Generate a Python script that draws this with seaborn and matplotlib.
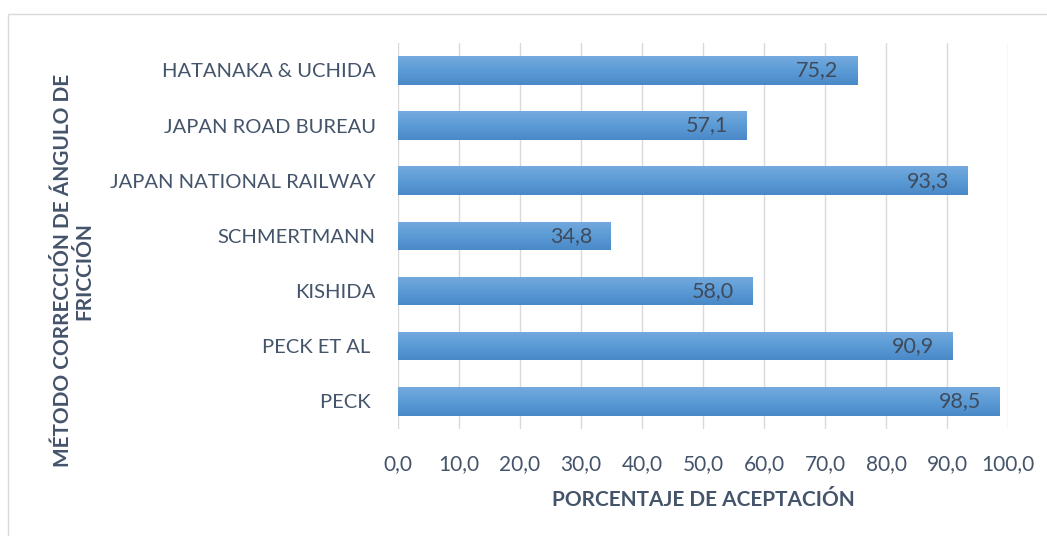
import numpy as np
import pandas as pd
import seaborn as sns
import matplotlib.pyplot as plt
from matplotlib.patches import Rectangle
from matplotlib.colors import LinearSegmentedColormap

methods = ["HATANAKA & UCHIDA", "JAPAN ROAD BUREAU", "JAPAN NATIONAL RAILWAY",
           "SCHMERTMANN", "KISHIDA", "PECK ET AL ", "PECK "]
acceptance = [75.2, 57.1, 93.3, 34.8, 58.0, 90.9, 98.5]
x_ticks = [0, 10, 20, 30, 40, 50, 60, 70, 80, 90, 100]

df = pd.DataFrame({"metodo": methods, "aceptacion": acceptance})

sns.set_theme(style="white")
plt.rcParams["font.family"] = ["Lato", "DejaVu Sans"]
text_color = "#44546A"

fig = plt.figure(figsize=(10.47, 5.36), dpi=100)
ax = fig.add_axes([0.380, 0.200, 0.583, 0.720])

sns.barplot(data=df, x="aceptacion", y="metodo", orient="h", color="#5B9BD5",
            width=0.52, saturation=1, ax=ax, zorder=2)

# vertical gradient fill on each bar
grad = np.linspace(0, 1, 64).reshape(-1, 1)
cmap = LinearSegmentedColormap.from_list("bar", ["#74AADF", "#5B9BD5", "#4A89C8"])
for patch in ax.patches:
    x0, y0 = patch.get_x(), patch.get_y()
    w, h = patch.get_width(), patch.get_height()
    im = ax.imshow(grad, cmap=cmap, aspect="auto", extent=(x0, x0 + w, y0 + h, y0),
                   zorder=3, interpolation="bicubic")
    im.set_clip_path(patch)
    patch.set_edgecolor("none")

for i, v in enumerate(acceptance):
    ax.text(v - 3.0, i, f"{v:.1f}".replace(".", ","), ha="right", va="center",
            fontsize=15.5, color="#404A5A", zorder=4)

ax.set_xlim(0, 100)
ax.set_ylim(len(methods) - 0.5, -0.5)
ax.set_xticks(x_ticks)
ax.set_xticklabels([f"{t:.1f}".replace(".", ",") for t in x_ticks])
ax.grid(axis="x", color="#D9D9D9", linewidth=1, zorder=0)
ax.set_axisbelow(True)
for s in ax.spines.values():
    s.set_visible(False)
ax.tick_params(axis="x", length=0, pad=18, labelsize=15, labelcolor=text_color)
ax.tick_params(axis="y", length=0, pad=16, labelsize=14.5, labelcolor=text_color)

ax.set_xlabel("PORCENTAJE DE ACEPTACIÓN", fontsize=15, fontweight="bold",
              color=text_color, labelpad=12)
ax.set_ylabel("MÉTODO CORRECCIÓN DE ÁNGULO DE\nFRICCIÓN", fontsize=15,
              fontweight="bold", color=text_color, linespacing=1.1)
ax.yaxis.set_label_coords(-0.497, 0.41)

# chart area border
fig.patches.append(Rectangle((8 / 1047, -0.05), 1.2, 1 - 14 / 536 + 0.05,
                             transform=fig.transFigure, fill=False,
                             edgecolor="#D9D9D9", linewidth=1))

fig.savefig("out.png", dpi=100)
